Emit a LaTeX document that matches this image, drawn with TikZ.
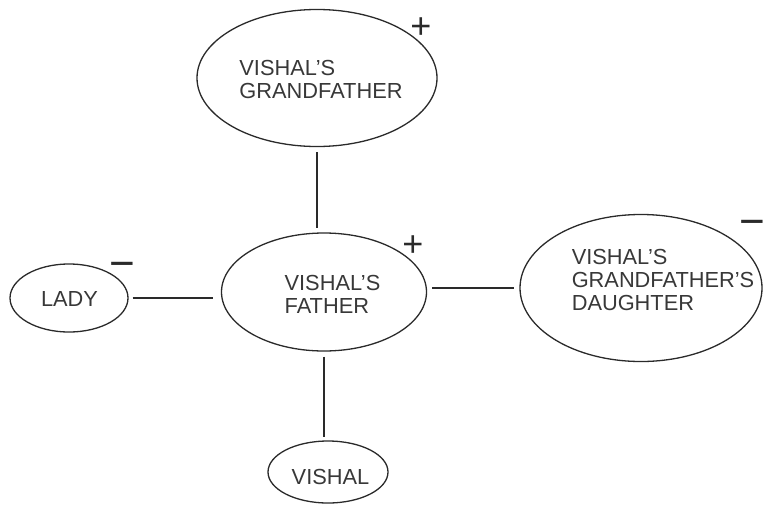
\documentclass[tikz,border=0pt]{standalone}
\usepackage{fontspec}
\setmainfont{Liberation Sans}
\usetikzlibrary{shapes.geometric}
\definecolor{ink}{HTML}{2A2A2A}
\definecolor{txt}{HTML}{383838}
\begin{document}
\begin{tikzpicture}[x=1pt,y=-1pt,
  oval/.style={draw=ink, line width=1.3pt, ellipse, inner sep=0pt},
  lbl/.style={text=txt, align=left, inner sep=0pt, font=\fontsize{21.8}{23}\selectfont},
  link/.style={draw=ink, line width=1.3pt},
  plussign/.style={text=ink, inner sep=0pt, font=\fontsize{36}{36}\selectfont},
  minussign/.style={text=ink, inner sep=0pt, font=\fontsize{44}{44}\selectfont}]
\useasboundingbox (0,0) rectangle (767,506);
% ellipses
\node[oval, minimum width=240pt, minimum height=137pt] (gf) at (317,78) {};
\node[oval, minimum width=205pt, minimum height=118pt] (fa) at (324,292) {};
\node[oval, minimum width=118pt, minimum height=68pt] (la) at (69,298) {};
\node[oval, minimum width=242pt, minimum height=147pt] (da) at (641,288) {};
\node[oval, minimum width=120pt, minimum height=62pt] (vi) at (328,472) {};
% labels
\node[lbl] (tgf) at (321,79) {VISHAL’S\\GRANDFATHER};
\node[lbl] (tfa) at (332.5,294.5) {VISHAL’S\\FATHER};
\node[lbl] (tla) at (69.5,298.5) {LADY};
\node[lbl] (tda) at (663,279.5) {VISHAL’S\\GRANDFATHER’S\\DAUGHTER};
\node[lbl] (tvi) at (330.5,476.5) {VISHAL};
% signs
\node[plussign] (pgf) at (421,28) {+};
\node[plussign] (pfa) at (413,246.5) {+};
\node[minussign] (mla) at (122,270.5) {−};
\node[minussign] (mda) at (752,228.5) {−};
% connectors
\draw[link] ([yshift=-5pt]gf.south) -- ([yshift=4pt]gf.south |- fa.north);
\draw[link] ([xshift=4pt]la.east) -- ([xshift=-8pt]fa.west |- la.east);
\draw[link] ([xshift=5pt]fa.east |- da.west) -- ([xshift=-5pt]da.west);
\draw[link] ([yshift=-5pt]fa.south) -- ([yshift=3pt]fa.south |- vi.north);
\end{tikzpicture}
\end{document}
